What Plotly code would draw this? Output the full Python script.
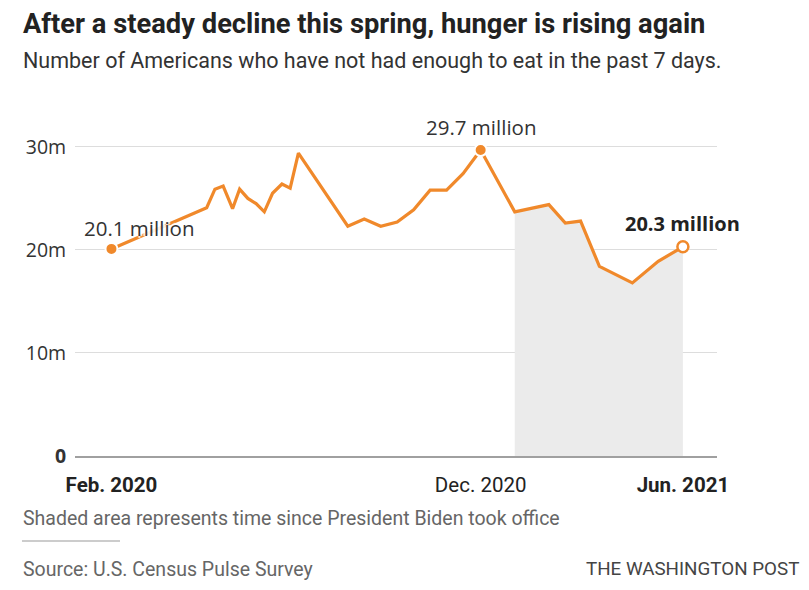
import plotly.graph_objects as go

# Americans who have not had enough to eat in the past 7 days (millions)
dates = [
    "2020-02-15", "2020-05-06", "2020-05-13", "2020-05-20", "2020-05-28",
    "2020-06-03", "2020-06-10", "2020-06-17", "2020-06-24", "2020-07-01",
    "2020-07-09", "2020-07-16", "2020-07-23", "2020-09-03", "2020-09-17",
    "2020-10-01", "2020-10-15", "2020-10-29", "2020-11-12", "2020-11-26",
    "2020-12-10", "2020-12-25", "2021-01-23", "2021-02-21", "2021-03-07",
    "2021-03-20", "2021-04-05", "2021-05-03", "2021-05-25", "2021-06-15",
]
hungry = [
    20.1, 24.1, 25.9, 26.2, 24.0,
    25.9, 25.0, 24.5, 23.7, 25.5,
    26.4, 26.0, 29.4, 22.3, 23.0,
    22.3, 22.7, 23.9, 25.8, 25.8,
    27.4, 29.7, 23.7, 24.4, 22.6,
    22.8, 18.4, 16.8, 18.9, 20.3,
]
biden_start = 22   # first point after Jan. 20, 2021
peak = 21

x_tickvals = [dates[0], dates[peak], dates[-1]]
x_ticktext = ["<b>Feb. 2020</b>", "Dec. 2020", "<b>Jun. 2021</b>"]
y_tickvals = [0, 10, 20, 30]
y_ticktext = ["<b>0</b>", "10m", "20m", "30m"]

ORANGE = "#f0892b"
TXT = "#222222"
GRAY = "#666666"
HEAD = "Roboto, sans-serif"
NUM = "Open Sans, sans-serif"
halo = "2px 0 1px white, -2px 0 1px white, 0 2px 1px white, 0 -2px 1px white"

fig = go.Figure()

# shaded area since Biden took office
fig.add_trace(go.Scatter(
    x=dates[biden_start:], y=hungry[biden_start:],
    fill="tozeroy", fillcolor="#ebebeb", mode="none", hoverinfo="skip",
))
fig.add_trace(go.Scatter(
    x=dates, y=hungry, mode="lines",
    line=dict(color=ORANGE, width=3.2),
))
# highlighted points
fig.add_trace(go.Scatter(
    x=[dates[0], dates[peak]], y=[hungry[0], hungry[peak]], mode="markers",
    marker=dict(size=12, color=ORANGE, line=dict(color="white", width=2)),
))
fig.add_trace(go.Scatter(
    x=[dates[-1]], y=[hungry[-1]], mode="markers",
    marker=dict(size=11, color="white", line=dict(color=ORANGE, width=2.5)),
))

fig.add_annotation(x=dates[0], y=hungry[0], text="20.1 million", showarrow=False,
                   xshift=28, yshift=21,
                   font=dict(family=NUM, size=20.5, color="#333", shadow=halo))
fig.add_annotation(x=dates[peak], y=hungry[peak], text="29.7 million", showarrow=False,
                   yshift=23, font=dict(family=NUM, size=20.5, color="#333"))
fig.add_annotation(x=dates[-1], y=hungry[-1], text="<b>20.3 million</b>", showarrow=False,
                   yshift=23, font=dict(family=NUM, size=20, color=TXT))

# headline, subtitle and footer
top = dict(xref="paper", yref="paper", xanchor="left", yanchor="middle",
           showarrow=False, borderpad=0)
fig.add_annotation(top, x=-0.0826, y=1.2706,
                   text="<b>After a steady decline this spring, hunger is rising again</b>",
                   font=dict(family=HEAD, size=27.3, color=TXT))
fig.add_annotation(top, x=-0.0826, y=1.1647,
                   text="Number of Americans who have not had enough to eat in the past 7 days.",
                   font=dict(family=HEAD, size=21.5, color="#333"))
fig.add_annotation(top, x=-0.0826, y=-0.1824,
                   text="Shaded area represents time since President Biden took office",
                   font=dict(family=HEAD, size=19.5, color=GRAY))
fig.add_annotation(top, x=-0.0826, y=-0.3324,
                   text="Source: U.S. Census Pulse Survey",
                   font=dict(family=HEAD, size=19.5, color=GRAY))
fig.add_annotation(top, x=1.1293, y=-0.3324, xanchor="right",
                   text="THE WASHINGTON POST",
                   font=dict(family=HEAD, size=18.8, color="#444"))
fig.add_shape(type="line", xref="paper", yref="paper", x0=-0.0826, x1=0.0701,
              y0=-0.25, y1=-0.25, line=dict(color="#cccccc", width=2))

# page body keeps an 8px margin, so the figure is drawn 8px smaller
fig.update_layout(
    width=801, height=582,
    margin=dict(l=67, r=92, t=108, b=134),
    paper_bgcolor="white", plot_bgcolor="white",
    showlegend=False,
    xaxis=dict(
        range=["2020-01-15", "2021-07-14"],
        tickvals=x_tickvals, ticktext=x_ticktext,
        showgrid=False, zeroline=False,
        showline=True, linecolor="#a0a0a0", linewidth=1.5, layer="above traces",
        ticks="outside", ticklen=10, tickcolor="rgba(0,0,0,0)",
        tickfont=dict(family=HEAD, size=20.5, color=TXT),
    ),
    yaxis=dict(
        range=[0, 33],
        tickvals=y_tickvals, ticktext=y_ticktext,
        showgrid=True, gridcolor="#dddddd", gridwidth=1, zeroline=False,
        ticks="outside", ticklen=4, tickcolor="rgba(0,0,0,0)",
        tickfont=dict(family=NUM, size=19.5, color="#333"),
    ),
)

fig.write_html("out.html")
